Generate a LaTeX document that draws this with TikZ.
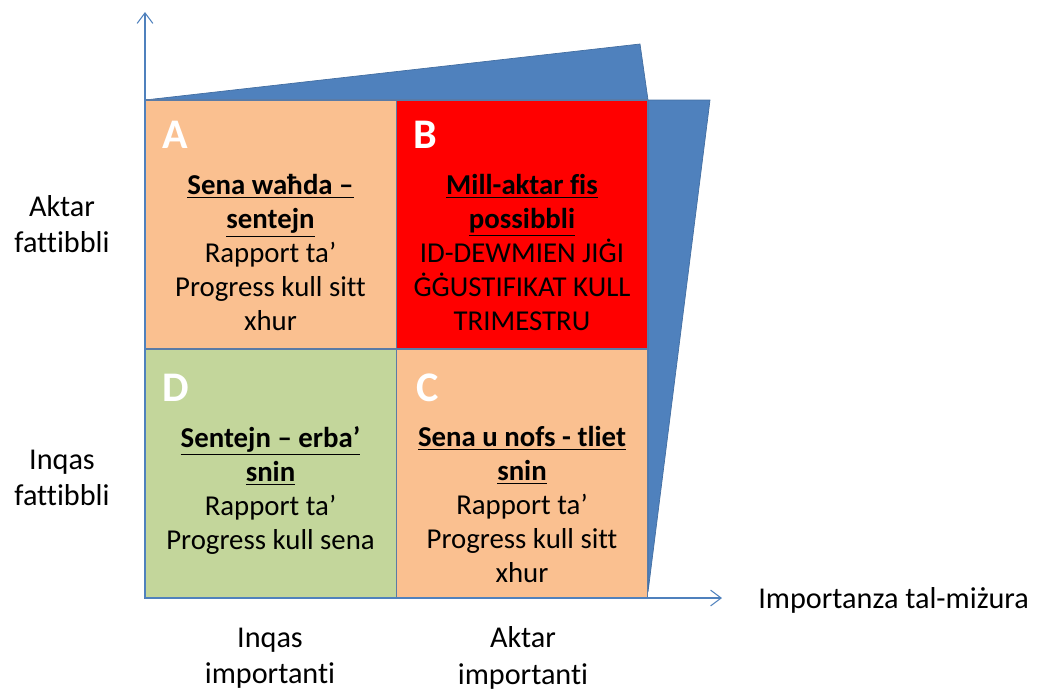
\documentclass[tikz,border=0pt]{standalone}
\usepackage{fontspec}
\setmainfont{Carlito}[Ligatures = NoCommon]
\usetikzlibrary{arrows.meta}

\definecolor{peach}{HTML}{FAC090}
\definecolor{hotred}{HTML}{FF0000}
\definecolor{sage}{HTML}{C3D69B}
\definecolor{steel}{HTML}{4F81BD}
\definecolor{gridline}{HTML}{5A7BA6}

\begin{document}
\begin{tikzpicture}[x = 0.02cm, y = -0.02cm,
	quad/.style = {draw = gridline, line width = 0.8pt, minimum width = 5.03cm, minimum height = 4.98cm, inner sep = 0},
	letter/.style = {text = white, font = \fontsize{24}{28}\selectfont\bfseries},
	body/.style = {align = center, anchor = north, inner sep = 0, font = \fontsize{16.4}{19.4}\selectfont},
	lbl/.style = {align = center, inner sep = 0, font = \fontsize{17.2}{20.8}\selectfont},
	axis/.style = {steel, line width = 0.6pt, -{Straight Barb[length = 6pt, width = 9pt]}}]
	\useasboundingbox (0, 0) rectangle (1040, 691);
	
	%	grid setup
	\def\xl{145}
	\def\xm{396}
	\def\xr{648}
	
	\def\yt{100}
	\def\ym{349}
	\def\yb{598}
	
	%	wedges
	\filldraw[fill = steel, draw = steel!85!black, line width = 0.4pt] (\xl, \yt) -- (640, 44) -- (\xr, \yt) -- cycle;
	\filldraw[fill = steel, draw = steel!85!black, line width = 0.4pt] (\xr, \yt) -- (710, \yt) -- (\xr, 592) -- cycle;
	
	%	quadrants
	\node[quad, fill = peach] (qA) at (270.5, 224.5) {};
	\node[quad, fill = hotred] (qB) at (522, 224.5) {};
	\node[quad, fill = sage] (qD) at (270.5, 473.5) {};
	\node[quad, fill = peach] (qC) at (522, 473.5) {};
	
	%	letters
	\node[letter] (lA) at (175, 135) {A};
	\node[letter] (lB) at (425, 135) {B};
	\node[letter] (lD) at (176, 388) {D};
	\node[letter] (lC) at (428, 388) {C};
	
	%	texts
	\node[body] (tA) at (270.5, 174) {\textbf{\underline{Sena waħda –}}\\\textbf{\underline{sentejn}}\\Rapport ta’\\Progress kull sitt\\xhur};
	\node[body] (tB) at (522, 174) {\textbf{\underline{Mill-aktar fis}}\\\textbf{\underline{possibbli}}\\ID-DEWMIEN JIĠI\\ĠĠUSTIFIKAT KULL\\TRIMESTRU};
	\node[body] (tD) at (270.5, 426) {\textbf{\underline{Sentejn – erba’}}\\\textbf{\underline{snin}}\\Rapport ta’\\Progress kull sena};
	\node[body] (tC) at (522, 426) {\textbf{\underline{Sena u nofs - tliet}}\\\textbf{\underline{snin}}\\Rapport ta’\\Progress kull sitt\\xhur};
	
	%	axes
	\coordinate (origin) at (\xl, \yb);
	\coordinate (ytop) at (\xl, 12);
	\coordinate (xend) at (722, \yb);
	\draw[axis] (origin) -- (ytop);
	\draw[axis] (origin) -- (xend);
	
	%	labels
	\node[lbl] (hiF) at (62, 224) {Aktar\\fattibbli};
	\node[lbl] (loF) at (62, 478) {Inqas\\fattibbli};
	\node[lbl] (loI) at (270, 658) {Inqas\\importanti};
	\node[lbl] (hiI) at (523, 658) {Aktar\\importanti};
	\node[lbl, anchor = west] (imp) at (758, 600) {Importanza tal-miżura};
\end{tikzpicture}
\end{document}
